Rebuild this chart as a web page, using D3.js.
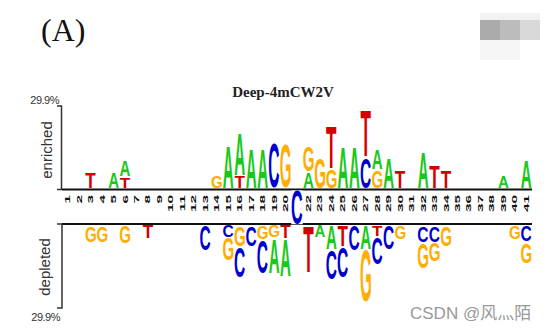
<!DOCTYPE html>
<html><head><meta charset="utf-8">
<script src="https://cdn.jsdelivr.net/npm/d3@7/dist/d3.min.js"></script>
<style>body{margin:0;background:#fff}svg{display:block}</style>
</head><body><svg id="c" width="557" height="330"></svg>
<script>
// ---- data ----
const positions = [1,2,3,4,5,6,7,8,9,10,11,12,13,14,15,16,17,18,19,20,21,22,23,24,25,26,27,28,29,30,31,32,33,34,35,36,37,38,39,40,41];
const tickLabels = positions.map(String);
const yMaxPct = 29.9;
// enriched: stacked from the axis upward (first = nearest axis)
const enrPos = [3,5,6,6,14,15,16,16,17,18,19,20,22,22,23,24,24,25,26,27,27,28,28,29,30,32,33,34,39,41];
const enrLet = ["T","A","T","A","G","A","T","A","A","A","C","G","A","G","G","G","T","A","A","C","T","G","A","A","T","A","T","T","A","A"];
const enrVal = [6.1,6.1,4.3,6.1,5.0,15.8,4.7,15.5,14.4,14.4,16.9,16.2,6.1,9.7,11.5,7.2,15.5,15.1,15.1,11.5,16.9,6.8,7.6,11.5,6.8,13.3,8.6,6.8,4.7,10.4];
// depleted: stacked from the axis downward (first = nearest axis)
const depPos = [3,4,6,8,13,15,15,16,16,17,18,18,19,19,20,20,22,23,24,24,25,25,26,27,27,28,28,29,30,32,32,33,33,34,40,41,41];
const depLet = ["G","G","G","T","C","C","G","G","C","C","G","C","G","A","T","A","T","A","A","C","T","C","C","A","G","T","C","C","G","C","G","C","G","G","G","C","G"];
const depVal = [6.4,6.4,6.8,5.0,9.6,4.6,8.5,7.8,11.4,7.8,5.3,12.5,4.6,12.8,5.0,13.5,17.1,4.6,8.9,11.0,7.8,11.4,9.6,8.9,18.9,4.3,10.0,8.9,5.3,6.4,9.6,6.4,7.1,7.8,5.3,6.1,7.8];
// depleted letter drawn across the label strip
const crossPos = [21];
const crossLet = ["C"];
const crossVal = [12.1];
const letterColor = {A:"#19c819", C:"#0000cc", G:"#ffad00", T:"#d40000"};

// ---- drawing ----
const svg = d3.select("#c");
const x = d3.scaleBand().domain(positions).range([62, 532]).padding(0);
const yEnr = d3.scaleLinear().domain([0, yMaxPct]).range([188.5, 106]);
const yDep = d3.scaleLinear().domain([0, yMaxPct]).range([225, 308]);
const yCross = d3.scaleLinear().domain([0, yMaxPct]).range([190.5, 274]);

const FS = 100, FONT = "Liberation Sans, Arial, sans-serif";
const ctx = document.createElement("canvas").getContext("2d");
ctx.font = `bold ${FS}px "Liberation Sans"`;
const met = {};
"ACGT".split("").forEach(L => {
  const m = ctx.measureText(L);
  met[L] = {l: m.actualBoundingBoxLeft, r: m.actualBoundingBoxRight, a: m.actualBoundingBoxAscent, d: m.actualBoundingBoxDescent};
});
function letter(g, L, x0, y0, w, h) {
  const m = met[L];
  const gw = m.l + m.r, gh = m.a + m.d;
  g.append("text").text(L)
    .attr("font-family", FONT).attr("font-weight", "bold").attr("font-size", FS)
    .attr("fill", letterColor[L])
    .attr("transform", `translate(${x0},${y0}) scale(${w / gw},${h / gh}) translate(${m.l},${m.a})`);
}
const bw = x.bandwidth();

// watermark blocks (top right)
const wm = svg.append("g");
[[480,13,60,7,"#f2f2f2"],[480,20,20,20,"#ababab"],[500,20,20,20,"#bcbcbc"],[520,20,20,20,"#d9d9d9"],[480,40,40,20,"#f5f5f5"]]
  .forEach(r => wm.append("rect").attr("x", r[0]).attr("y", r[1]).attr("width", r[2]).attr("height", r[3]).attr("fill", r[4]));

// panel label and title
svg.append("text").attr("x", 41).attr("y", 41).text("(A)")
  .attr("font-family", "Liberation Serif, Times New Roman, serif").attr("font-size", 32).attr("fill", "#111");
svg.append("text").attr("x", 283).attr("y", 97).attr("text-anchor", "middle").text("Deep-4mCW2V")
  .attr("font-family", "Liberation Serif, Times New Roman, serif").attr("font-weight", "bold").attr("font-size", 15).attr("fill", "#222");

// axis lines
svg.append("line").attr("x1", 62).attr("x2", 532).attr("y1", 189.5).attr("y2", 189.5).attr("stroke", "#111").attr("stroke-width", 2);
svg.append("line").attr("x1", 62).attr("x2", 532).attr("y1", 224).attr("y2", 224).attr("stroke", "#111").attr("stroke-width", 2);
// brackets
const br = svg.append("g").attr("stroke", "#333").attr("stroke-width", 1.5).attr("fill", "none");
br.append("path").attr("d", `M57,${yEnr(yMaxPct)}H61.5V189.5H57`);
br.append("path").attr("d", `M57,224H62V${yDep(yMaxPct)}H57`);
svg.append("text").attr("x", 59).attr("y", 104).attr("text-anchor", "end").text(yMaxPct + "%")
  .attr("font-family", FONT).attr("font-size", 11).attr("fill", "#333").attr("letter-spacing", -0.5);
svg.append("text").attr("x", 60).attr("y", 321).attr("text-anchor", "end").text(yMaxPct + "%")
  .attr("font-family", FONT).attr("font-size", 11).attr("fill", "#333").attr("letter-spacing", -0.5);
svg.append("text").attr("transform", "translate(52,150) rotate(-90)").attr("text-anchor", "middle").text("enriched")
  .attr("font-family", FONT).attr("font-size", 15).attr("fill", "#333");
svg.append("text").attr("transform", "translate(50,267) rotate(-90)").attr("text-anchor", "middle").text("depleted")
  .attr("font-family", FONT).attr("font-size", 15).attr("fill", "#333");

// tick labels
const tl = svg.append("g");
positions.forEach((p, i) => {
  tl.append("text").text(tickLabels[i])
    .attr("transform", `translate(${x(p) + bw / 2},195) rotate(-90) scale(2.2,1)`)
    .attr("text-anchor", "end").attr("dy", "0.36em")
    .attr("font-family", FONT).attr("font-weight", "bold").attr("font-size", 7).attr("fill", "#111");
});

// enriched stacks
const gE = svg.append("g");
const cumE = {};
enrPos.forEach((p, i) => {
  const c0 = cumE[p] || 0, c1 = c0 + enrVal[i];
  cumE[p] = c1;
  const yT = yEnr(c1), yB = yEnr(c0);
  letter(gE, enrLet[i], x(p) + 0.6, yT + 1, bw - 1.2, yB - yT - 1.5);
});
// depleted stacks
const gD = svg.append("g");
const cumD = {};
depPos.forEach((p, i) => {
  const c0 = cumD[p] || 0, c1 = c0 + depVal[i];
  cumD[p] = c1;
  const yT = yDep(c0), yB = yDep(c1);
  letter(gD, depLet[i], x(p) + 0.6, yT + 0.8, bw - 1.2, yB - yT - 1.6);
});
// crossing letter
crossPos.forEach((p, i) => {
  const yT = yCross(0), yB = yCross(crossVal[i]);
  svg.append("rect").attr("x", x(p)).attr("y", yT).attr("width", bw).attr("height", yB - yT).attr("fill", "#fff");
  letter(svg, crossLet[i], x(p) + 0.4, yT, bw - 0.8, yB - yT);
});

// watermark text
svg.append("text").attr("x", 410).attr("y", 319).text("CSDN @风灬陌")
  .attr("font-family", "Liberation Sans, Noto Sans CJK SC, sans-serif").attr("font-size", 17).attr("fill", "#999");
</script></body></html>
